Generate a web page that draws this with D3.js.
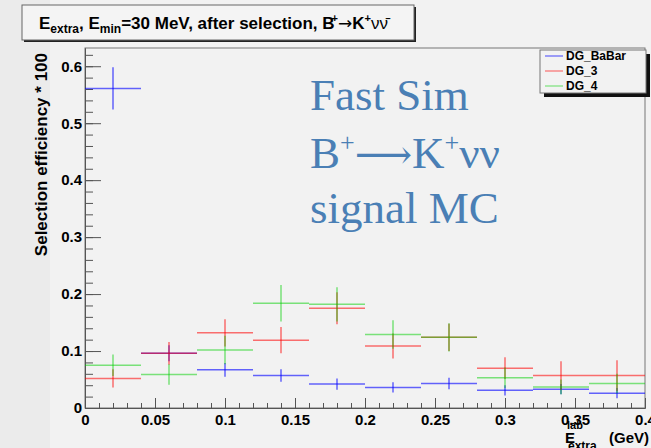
<!DOCTYPE html>
<html lang="en">
<head>
    <meta charset="UTF-8">
    <title>E extra selection efficiency</title>
    <script src="https://d3js.org/d3.v7.min.js"></script>
    <style>
        body { margin: 0; background: #f2f2f2; }
        svg { display: block; font-family: "Liberation Sans", Arial, sans-serif; }
        .axis text { font-size: 15px; font-weight: bold; fill: #000; }
        .axis path, .axis line { stroke: #555; }
    </style>
</head>
<body>
<script>
    // bin centres (GeV), width 0.04
    const binCenters = [0.02, 0.06, 0.10, 0.14, 0.18, 0.22, 0.26, 0.30, 0.34, 0.38];
    const binWidth = 0.04;

    const seriesNames = ["DG_BaBar", "DG_3", "DG_4"];
    const babarVals = [0.561, 0.096, 0.067, 0.057, 0.042, 0.036, 0.043, 0.031, 0.033, 0.026];
    const babarErrs = [0.037, 0.014, 0.012, 0.011, 0.010, 0.009, 0.010, 0.009, 0.009, 0.009];
    const dg3Vals = [0.052, 0.096, 0.132, 0.119, 0.175, 0.109, 0.124, 0.070, 0.057, 0.057];
    const dg3Errs = [0.016, 0.020, 0.024, 0.023, 0.028, 0.022, 0.024, 0.019, 0.025, 0.027];
    const dg4Vals = [0.075, 0.059, 0.102, 0.184, 0.182, 0.129, 0.124, 0.053, 0.037, 0.043];
    const dg4Errs = [0.019, 0.018, 0.025, 0.032, 0.030, 0.025, 0.025, 0.018, 0.013, 0.017];

    const xMajor = [0, 0.05, 0.1, 0.15, 0.2, 0.25, 0.3, 0.35, 0.4];
    const yMajor = [0, 0.1, 0.2, 0.3, 0.4, 0.5, 0.6];

    const width = 651, height = 448;
    const pLeft = 85, pRight = 645, pTop = 48, pBottom = 408;

    const svg = d3.select("body").append("svg")
        .attr("width", width).attr("height", height);

    // page background + slide strip on the left
    svg.append("rect").attr("width", width).attr("height", height).attr("fill", "#f2f2f2");
    svg.append("rect").attr("width", 50).attr("height", height).attr("fill", "#ebebeb");

    const x = d3.scaleLinear().domain([0, 0.4]).range([pLeft, pRight]);
    const y = d3.scaleLinear().domain([0, 0.632]).range([pBottom, pTop]);

    // frame
    svg.append("rect")
        .attr("x", pLeft).attr("y", pTop)
        .attr("width", pRight - pLeft).attr("height", pBottom - pTop)
        .attr("fill", "none").attr("stroke", "#777");

    // x axis: minor then major ticks, pointing inward
    svg.append("g").attr("class", "axis")
        .attr("transform", `translate(0,${pBottom})`)
        .call(d3.axisBottom(x).ticks(40).tickSize(-5).tickSizeOuter(0).tickFormat(""));
    svg.append("g").attr("class", "axis")
        .attr("transform", `translate(0,${pBottom})`)
        .call(d3.axisBottom(x).tickValues(xMajor).tickSize(-10).tickSizeOuter(0).tickPadding(6)
            .tickFormat(d => d === 0 ? "0" : String(d)));

    // y axis
    svg.append("g").attr("class", "axis")
        .attr("transform", `translate(${pLeft},0)`)
        .call(d3.axisLeft(y).ticks(31).tickSize(-8).tickSizeOuter(0).tickFormat(""));
    svg.append("g").attr("class", "axis")
        .attr("transform", `translate(${pLeft},0)`)
        .call(d3.axisLeft(y).tickValues(yMajor).tickSize(-16).tickSizeOuter(0).tickPadding(3)
            .tickFormat(d => d === 0 ? "0" : d.toFixed(1)));

    // y title
    svg.append("text")
        .attr("transform", `translate(47,53) rotate(-90)`)
        .attr("text-anchor", "end")
        .style("font-size", "17px").style("font-weight", "bold")
        .text("Selection efficiency * 100");

    // x title  E^lab_extra (GeV)
    const xt = svg.append("g").style("font-weight", "bold");
    xt.append("text").attr("x", 565).attr("y", 443).style("font-size", "15px").text("E");
    xt.append("text").attr("x", 567).attr("y", 429).style("font-size", "11px").text("lab");
    xt.append("text").attr("x", 568).attr("y", 450).style("font-size", "12px").text("extra");
    xt.append("text").attr("x", 609).attr("y", 443).style("font-size", "15px").text("(GeV)");

    // error-bar histograms
    const series = [
        { name: seriesNames[0], vals: babarVals, errs: babarErrs, color: "#0000ff", op: 0.6 },
        { name: seriesNames[1], vals: dg3Vals, errs: dg3Errs, color: "#ff0000", op: 0.55 },
        { name: seriesNames[2], vals: dg4Vals, errs: dg4Errs, color: "#00d000", op: 0.5 }
    ];

    series.forEach(s => {
        const pts = binCenters.map((c, i) => ({ c, v: s.vals[i], e: s.errs[i] }));
        const g = svg.append("g")
            .attr("stroke", s.color).attr("stroke-opacity", s.op).attr("stroke-width", 1.5);
        g.selectAll(".h").data(pts).enter().append("line")
            .attr("x1", d => x(d.c - binWidth / 2)).attr("x2", d => x(d.c + binWidth / 2))
            .attr("y1", d => y(d.v)).attr("y2", d => y(d.v));
        g.selectAll(".v").data(pts).enter().append("line")
            .attr("x1", d => x(d.c)).attr("x2", d => x(d.c))
            .attr("y1", d => y(d.v - d.e)).attr("y2", d => y(d.v + d.e));
    });

    // legend
    const lg = svg.append("g");
    lg.append("rect").attr("x", 544).attr("y", 54).attr("width", 106).attr("height", 43).attr("fill", "#111");
    lg.append("rect").attr("x", 540).attr("y", 50).attr("width", 106).attr("height", 43)
        .attr("fill", "#f2f2f2").attr("stroke", "#777");
    series.forEach((s, i) => {
        const yy = 56 + i * 15;
        lg.append("line").attr("x1", 545).attr("x2", 563).attr("y1", yy).attr("y2", yy)
            .attr("stroke", s.color).attr("stroke-opacity", s.op).attr("stroke-width", 1.2);
        lg.append("text").attr("x", 566).attr("y", yy + 4)
            .style("font-size", "12px").style("font-weight", "bold").text(s.name);
    });

    // title box
    svg.append("rect").attr("x", 24).attr("y", 7).attr("width", 392).attr("height", 35).attr("fill", "#222");
    svg.append("rect").attr("x", 22).attr("y", 5).attr("width", 392).attr("height", 35)
        .attr("fill", "#f4f4f4").attr("stroke", "#666");
    const tt = svg.append("text").attr("x", 39).attr("y", 29)
        .style("font-size", "17px").style("font-weight", "bold");
    tt.append("tspan").text("E");
    tt.append("tspan").attr("dy", 4).style("font-size", "12px").text("extra");
    tt.append("tspan").attr("dy", -4).text(", E");
    tt.append("tspan").attr("dy", 4).style("font-size", "12px").text("min");
    tt.append("tspan").attr("dy", -4).text("=30 MeV, after selection, B");
    tt.append("tspan").attr("dy", -7).attr("dx", -3).style("font-size", "11px").text("+");
    tt.append("tspan").attr("dy", 7).style("font-weight", "normal").style("font-family", "'DejaVu Sans'").text("\u2192");
    tt.append("tspan").text("K");
    tt.append("tspan").attr("dy", -7).style("font-size", "11px").text("+");
    tt.append("tspan").attr("dy", 7).style("font-weight", "normal").text("\u03bd\u03bd\u0304");

    // slide annotation
    const note = svg.append("g")
        .style("font-family", "'Liberation Serif', 'Times New Roman', serif")
        .style("font-size", "45px").attr("fill", "#4a7fb5");
    note.append("text").attr("x", 310).attr("y", 110).text("Fast Sim");
    const l2 = note.append("text").attr("x", 310).attr("y", 168);
    l2.append("tspan").text("B");
    l2.append("tspan").attr("dy", -17).style("font-size", "26px").text("+");
    l2.append("tspan").attr("dy", 17).style("font-family", "'DejaVu Serif', 'DejaVu Sans'").style("font-size", "40px").text("\u27f6");
    l2.append("tspan").text("K");
    l2.append("tspan").attr("dy", -17).style("font-size", "26px").text("+");
    l2.append("tspan").attr("dy", 17).text("\u03bd\u03bd");
    note.append("text").attr("x", 310).attr("y", 223).text("signal MC");
</script>
</body>
</html>
